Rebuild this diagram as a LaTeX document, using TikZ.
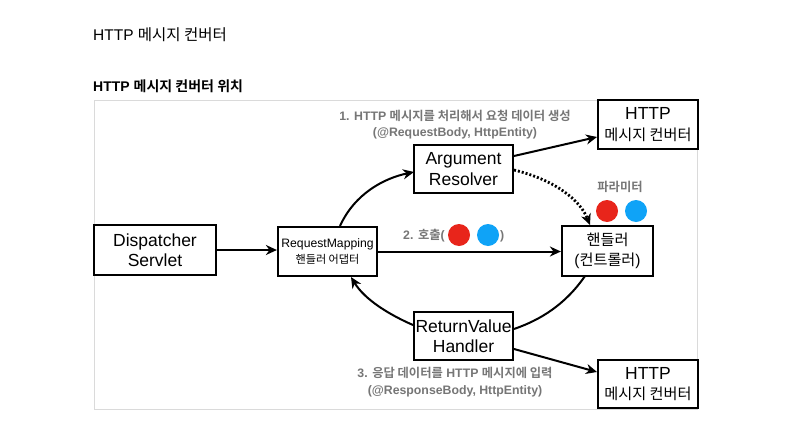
\documentclass[tikz,border=0pt]{standalone}
\usepackage{fontspec}
\setmainfont{Liberation Sans}
\newfontfamily\kr{Noto Sans CJK KR}[BoldFont={* Bold}]
\newcommand\krbig{\kr\fontsize{15.2}{20.5}\selectfont}
\newcommand\krsmall{\kr\fontsize{11.1}{16}\selectfont}
\usetikzlibrary{arrows.meta}
\definecolor{lbl}{HTML}{767676}
\definecolor{frm}{HTML}{DADADA}
\definecolor{dotred}{HTML}{E8251B}
\definecolor{dotblue}{HTML}{0FA3F7}
\tikzset{
  box/.style={draw=black, line width=2.2pt, inner sep=0pt, align=center, font=\fontsize{17.5}{20.5}\selectfont},
  conn/.style={line width=2pt, -{Stealth[length=11pt,width=10pt,inset=3.5pt]}},
  lbltext/.style={text=lbl, align=center, font=\bfseries\fontsize{12.3}{16.5}\selectfont, inner sep=0pt},
  dot/.style={circle, inner sep=0pt, minimum size=22pt}
}
\begin{document}
\begin{tikzpicture}[x=1pt,y=-1pt]
\useasboundingbox (0,0) rectangle (791,428);
\fill[white] (0,0) rectangle (791,428);
% titles
\node[anchor=west, inner sep=0pt, font=\fontsize{15.5}{18}\selectfont] (title) at (93,35) {HTTP {\kr 메시지 컨버터}};
\node[anchor=west, inner sep=0pt, font=\bfseries\fontsize{14}{16}\selectfont] (subtitle) at (93,86) {HTTP {\kr 메시지 컨버터 위치}};
% frame
\draw[frm, line width=1pt] (94,100) rectangle (697,409);
% boxes
\node[box, minimum width=122pt, minimum height=50pt] (disp) at (155,250) {Dispatcher\\Servlet};
\node[box, minimum width=99pt, minimum height=49pt, font=\fontsize{12.2}{16}\selectfont] (rm) at (327.5,251.5) {RequestMapping\\{\krsmall 핸들러 어댑터}};
\node[box, minimum width=99pt, minimum height=48pt] (ar) at (463.5,169) {Argument\\Resolver};
\node[box, minimum width=100pt, minimum height=49pt] (conv1) at (648,124.5) {HTTP\\{\krbig 메시지 컨버터}};
\node[box, minimum width=91pt, minimum height=50pt] (hd) at (607.5,251) {{\krbig 핸들러}\\{\fontsize{15.5}{20.5}\selectfont(}{\krbig 컨트롤러}{\fontsize{15.5}{20.5}\selectfont)}};
\node[box, minimum width=99pt, minimum height=48pt] (rv) at (463.5,336) {ReturnValue\\Handler};
\node[box, minimum width=100pt, minimum height=48pt] (conv2) at (648,384) {HTTP\\{\krbig 메시지 컨버터}};
% labels
\node[lbltext] (l1) at (455,124.5) {1. HTTP {\kr 메시지를 처리해서 요청 데이터 생성}\\(@RequestBody, HttpEntity)};
\node[lbltext] (l3) at (455,382) {3. {\kr 응답 데이터를} HTTP {\kr 메시지에 입력}\\(@ResponseBody, HttpEntity)};
\node[lbltext, anchor=west] (l2) at (403,236) {2. {\kr 호출}(};
\node[dot, fill=dotred] (c2r) at (459,235) {};
\node[dot, fill=dotblue] (c2b) at (488,235) {};
\node[lbltext, anchor=west] (l2e) at (500,236) {)};
\node[lbltext] (pl) at (620,187) {\kr 파라미터};
\node[dot, fill=dotred] (pr) at (607,211) {};
\node[dot, fill=dotblue] (pb) at (636,211) {};
% connectors
\coordinate (rmtop) at (340,226);
\coordinate (arl) at (414,172);
\coordinate (arr1) at (514,156);
\coordinate (cv1l) at (597,137);
\coordinate (arr2) at (514,170);
\coordinate (hdtop) at (590,225);
\coordinate (hdbot) at (585,276);
\coordinate (rvr) at (514,329);
\coordinate (rvl) at (413,325);
\coordinate (rmbot) at (351,277);
\coordinate (rvr2) at (514,349);
\coordinate (cv2l) at (597,372);
\draw[conn] (disp.east) -- (disp.east -| rm.west);
\draw[conn] (rm.east) -- (rm.east -| hd.west);
\draw[conn] (rmtop) .. controls (355,193) and (385,178) .. (arl);
\draw[conn] (arr1) -- (cv1l);
\draw[conn, dotted, line width=2.8pt] (arr2) .. controls (555,180) and (580,200) .. (hdtop);
\draw[line width=2pt] (hdbot) .. controls (565,305) and (540,320) .. (rvr);
\draw[conn] (rvl) .. controls (390,315) and (365,300) .. (rmbot);
\draw[conn] (rvr2) -- (cv2l);
\end{tikzpicture}
\end{document}
